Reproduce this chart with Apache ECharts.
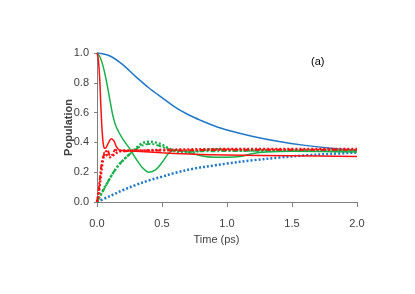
<!DOCTYPE html>
<html><head><meta charset="utf-8">
<script src="https://cdn.jsdelivr.net/npm/echarts@6/dist/echarts.min.js"></script>
<style>html,body{margin:0;padding:0;background:#fff}#c{width:415px;height:294px}</style>
</head><body><div id="c"></div>
<script>
var xTicks = [0, 0.5, 1.0, 1.5, 2.0];
var yTicks = [0, 0.2, 0.4, 0.6, 0.8, 1.0];

var blueSolidT = [0, 0.1, 0.2, 0.3, 0.4, 0.5, 0.6, 0.7, 0.8, 0.9, 1.0, 1.2, 1.4, 1.6, 1.8, 2.0];
var blueSolidP = [1.0, 0.98, 0.92, 0.84, 0.765, 0.70, 0.637, 0.587, 0.547, 0.512, 0.483, 0.44, 0.406, 0.38, 0.36, 0.346];

var blueDotT = [0, 0.1, 0.2, 0.3, 0.4, 0.5, 0.6, 0.75, 0.9, 1.0, 1.2, 1.4, 1.6, 1.8, 2.0];
var blueDotP = [0, 0.04, 0.08, 0.115, 0.145, 0.17, 0.195, 0.225, 0.245, 0.258, 0.28, 0.298, 0.313, 0.323, 0.332];

var greenSolidT = [0, 0.025, 0.05, 0.075, 0.1, 0.125, 0.15, 0.2, 0.25, 0.3, 0.35, 0.4, 0.45, 0.5, 0.55, 0.6, 0.7, 0.8, 0.9, 1.0, 1.1, 1.2, 1.3, 1.5, 2.0];
var greenSolidP = [1.0, 0.97, 0.9, 0.8, 0.68, 0.57, 0.5, 0.42, 0.36, 0.29, 0.23, 0.2, 0.215, 0.265, 0.325, 0.35, 0.335, 0.31, 0.3, 0.3, 0.305, 0.325, 0.335, 0.34, 0.335];

var greenDotT = [0, 0.06, 0.16, 0.25, 0.34, 0.4, 0.45, 0.5, 0.55, 0.6, 0.7, 0.8, 0.9, 1.0, 1.2, 1.5, 2.0];
var greenDotP = [0, 0.1, 0.24, 0.32, 0.39, 0.405, 0.4, 0.385, 0.36, 0.34, 0.33, 0.345, 0.355, 0.35, 0.345, 0.345, 0.345];

var greenDashT = [0, 0.05, 0.1, 0.15, 0.2, 0.25, 0.3, 0.35, 0.4, 0.45, 0.5, 0.6, 0.8, 1.0, 1.5, 2.0];
var greenDashP = [0, 0.08, 0.16, 0.23, 0.28, 0.32, 0.355, 0.38, 0.39, 0.385, 0.37, 0.345, 0.34, 0.342, 0.345, 0.345];

var redSolidT = [0, 0.01, 0.02, 0.03, 0.04, 0.05, 0.06, 0.07, 0.09, 0.11, 0.13, 0.15, 0.17, 0.2, 0.3, 0.5, 0.75, 1.0, 1.5, 2.0];
var redSolidP = [1.0, 0.96, 0.84, 0.64, 0.47, 0.38, 0.36, 0.365, 0.4, 0.425, 0.41, 0.37, 0.35, 0.345, 0.34, 0.33, 0.32, 0.315, 0.31, 0.305];

var redDashT = [0, 0.01, 0.02, 0.03, 0.04, 0.05, 0.06, 0.07, 0.08, 0.09, 0.1, 0.12, 0.14, 0.17, 0.2, 0.3, 0.5, 1.0, 2.0];
var redDashP = [0, 0.06, 0.14, 0.22, 0.28, 0.31, 0.32, 0.34, 0.35, 0.33, 0.31, 0.32, 0.35, 0.34, 0.34, 0.345, 0.345, 0.35, 0.35];

var redDotT = [0, 0.01, 0.02, 0.03, 0.04, 0.05, 0.06, 0.08, 0.1, 0.12, 0.15, 0.2, 0.3, 0.5, 1.0, 2.0];
var redDotP = [0, 0.04, 0.1, 0.18, 0.25, 0.3, 0.33, 0.31, 0.3, 0.31, 0.33, 0.345, 0.345, 0.35, 0.355, 0.355];

function pairs(t, p) { return t.map(function (v, i) { return [v, p[i]]; }); }

var BLUE = '#1f78c8', GREEN = '#19b04b', RED = '#ff1010';
function line(name, t, p, color, width, type) {
  return { name: name, type: 'line', data: pairs(t, p), smooth: 0.35, symbol: 'none',
    lineStyle: { color: color, width: width, type: type }, z: 2 };
}

var chart = echarts.init(document.getElementById('c'), null, { renderer: 'canvas' });
var FONT = '"Liberation Sans Narrow", "Arial Narrow", "Liberation Sans", Arial, sans-serif';
chart.setOption({
  animation: false,
  backgroundColor: '#fff',
  grid: { left: 97, right: 58, top: 53, bottom: 92 },
  xAxis: {
    type: 'value', min: 0, max: 2, interval: 0.5,
    name: 'Time (ps)', nameLocation: 'middle', nameGap: 32, nameMoveOverlap: false,
    nameTextStyle: { color: '#404040', fontSize: 11, fontFamily: FONT, padding: [0, 21, 0, 0] },
    axisLine: { show: true, lineStyle: { color: '#7f7f7f', width: 1 } },
    axisTick: { show: true, length: 5, lineStyle: { color: '#7f7f7f' } },
    axisLabel: { color: '#404040', fontSize: 11, fontFamily: FONT, margin: 16,
      formatter: function (v) { return v.toFixed(1); } },
    splitLine: { show: false }
  },
  yAxis: {
    type: 'value', min: 0, max: 1, interval: 0.2,
    name: 'Population', nameLocation: 'middle', nameGap: 23, nameMoveOverlap: false,
    nameTextStyle: { color: '#404040', fontSize: 11, fontWeight: 'bold', fontFamily: FONT },
    axisLine: { show: true, lineStyle: { color: '#7f7f7f', width: 1 } },
    axisTick: { show: true, length: 3, lineStyle: { color: '#7f7f7f' } },
    axisLabel: { color: '#404040', fontSize: 11, fontFamily: FONT, margin: 8,
      formatter: function (v) { return v.toFixed(1); } },
    splitLine: { show: false }
  },
  graphic: [{ type: 'text', left: 311, top: 56, style: { text: '(a)', fill: '#000', font: '11px "Liberation Sans", Arial, sans-serif' } }],
  series: [
    line('blue solid', blueSolidT, blueSolidP, BLUE, 1.5, 'solid'),
    line('blue dotted', blueDotT, blueDotP, BLUE, 2.5, [2, 2]),
    line('green solid', greenSolidT, greenSolidP, GREEN, 1.5, 'solid'),
    line('green dotted', greenDotT, greenDotP, GREEN, 2.5, [2, 2]),
    line('green dash', greenDashT, greenDashP, GREEN, 2, [5, 2, 2, 2]),
    line('red solid', redSolidT, redSolidP, RED, 1.5, 'solid'),
    line('red dash', redDashT, redDashP, RED, 2, [5, 2, 2, 2]),
    line('red dotted', redDotT, redDotP, RED, 2.5, [2, 2])
  ]
});
</script></body></html>
